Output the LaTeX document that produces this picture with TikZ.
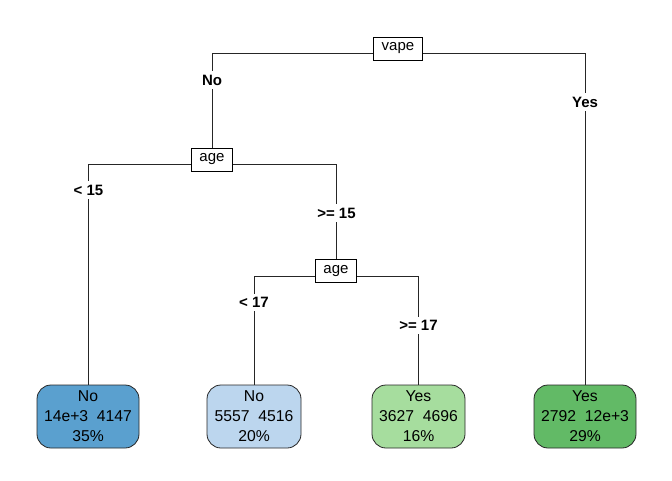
\documentclass[tikz,border=0pt]{standalone}
\usepackage{fontspec}
\setmainfont{Liberation Sans}
\usetikzlibrary{backgrounds}
\definecolor{leafA}{HTML}{5AA0CF}
\definecolor{leafB}{HTML}{BCD6EE}
\definecolor{leafC}{HTML}{A6DD9E}
\definecolor{leafD}{HTML}{62BA66}
\begin{document}
\begin{tikzpicture}[x=0.75pt,y=-0.75pt,
  font=\fontsize{11.25pt}{15pt}\selectfont,
  splitbox/.style={draw=black,fill=white,line width=0.6pt,inner xsep=6pt,inner ysep=0pt,minimum height=17.25pt},
  leafbox/.style={draw=black!85,rounded corners=10.5pt,line width=0.6pt,minimum height=47.25pt,align=center,inner sep=0pt,font=\fontsize{11.8pt}{15pt}\selectfont},
  edgelab/.style={fill=white,font=\bfseries\fontsize{11.25pt}{13pt}\selectfont,inner xsep=1pt,inner ysep=2.5pt},
  branch/.style={line width=0.75pt,draw=black!85}]
\useasboundingbox (0,0) rectangle (672,480);

% split nodes
\node[splitbox] (vape) at (398,48.5) {vape};
\node[splitbox] (age1) at (212,159.5) {age};
\node[splitbox] (age2) at (336,271) {age};

% leaves
\node[leafbox,fill=leafA,minimum width=76.5pt] (leaf1) at (88,416.5) {No\\14e+3\ \ 4147\\35\%};
\node[leafbox,fill=leafB,minimum width=70.5pt] (leaf2) at (254,416.5) {No\\5557\ \ 4516\\20\%};
\node[leafbox,fill=leafC,minimum width=69.75pt] (leaf3) at (418.5,416.5) {Yes\\3627\ \ 4696\\16\%};
\node[leafbox,fill=leafD,minimum width=76.5pt] (leaf4) at (585,416.5) {Yes\\2792\ \ 12e+3\\29\%};

% junctions
\coordinate (j1) at (398,53);
\coordinate (j2) at (212,164);
\coordinate (j3) at (336,276);

\begin{scope}[on background layer]
\draw[branch] (j1) -| (age1.north);
\draw[branch] (j1) -| (leaf4.north);
\draw[branch] (j2) -| (leaf1.north);
\draw[branch] (j2) -| (age2.north);
\draw[branch] (j3) -| (leaf2.north);
\draw[branch] (j3) -| (leaf3.north);
\end{scope}

% edge labels
\node[edgelab] (lno) at (212,80) {No};
\node[edgelab] (lyes) at (585,102) {Yes};
\node[edgelab] (llt15) at (88.5,190) {< 15};
\node[edgelab] (lge15) at (336.5,213) {>= 15};
\node[edgelab] (llt17) at (254,302) {< 17};
\node[edgelab] (lge17) at (418.5,325) {>= 17};
\end{tikzpicture}
\end{document}
